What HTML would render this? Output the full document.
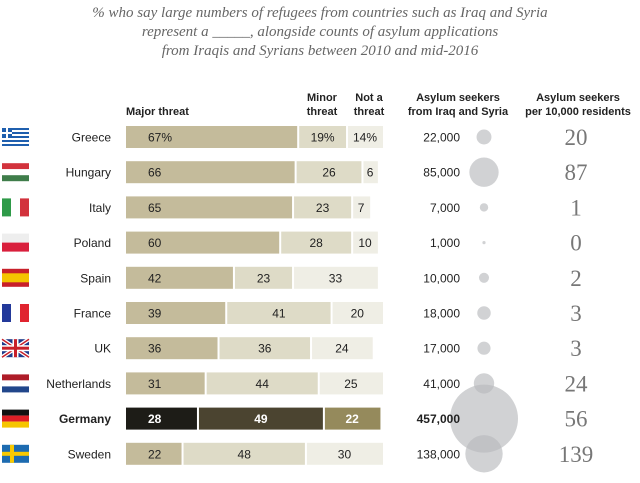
<!DOCTYPE html>
<html><head><meta charset="utf-8"><style>
body{margin:0;background:#fff;width:640px;height:478px;overflow:hidden;font-family:"Liberation Sans",sans-serif}
svg text{font-family:"Liberation Sans",sans-serif}
</style></head><body>
<svg id="c" width="640" height="478">
<g font-family="Liberation Serif" font-style="italic" fill="#666" font-size="15" text-anchor="middle">
<text x="320" y="17" style="font-family:'Liberation Serif',serif">% who say large numbers of refugees from countries such as Iraq and Syria</text>
<text x="320" y="36" style="font-family:'Liberation Serif',serif">represent a _____, alongside counts of asylum applications</text>
<text x="320" y="55" style="font-family:'Liberation Serif',serif">from Iraqis and Syrians between 2010 and mid-2016</text>
</g>
<g font-size="11" font-weight="bold" fill="#222">
<text x="126" y="115">Major threat</text>
<text x="322" y="101" text-anchor="middle">Minor</text><text x="322" y="115" text-anchor="middle">threat</text>
<text x="369" y="101" text-anchor="middle">Not a</text><text x="369" y="115" text-anchor="middle">threat</text>
<text x="458" y="101" text-anchor="middle">Asylum seekers</text><text x="458" y="115" text-anchor="middle">from Iraq and Syria</text>
<text x="578" y="101" text-anchor="middle">Asylum seekers</text><text x="578" y="115" text-anchor="middle">per 10,000 residents</text>
</g>
<g id="circles"></g>
<g id="rows"></g>
</svg>
<script>
const countries=["Greece","Hungary","Italy","Poland","Spain","France","UK","Netherlands","Germany","Sweden"];
const major=[67,66,65,60,42,39,36,31,28,22];
const minor=[19,26,23,28,23,41,36,44,49,48];
const notThreat=[14,6,7,10,33,20,24,25,22,30];
const seekers=[22000,85000,7000,1000,10000,18000,17000,41000,457000,138000];
const seekerLabels=["22,000","85,000","7,000","1,000","10,000","18,000","17,000","41,000","457,000","138,000"];
const per10k=[20,87,1,0,2,3,3,24,56,139];
const NS="http://www.w3.org/2000/svg";
const x0=126,k=2.57,y0=137,dy=35.2,bh=22;
const rx=v=>v*k;
const yc=i=>y0+i*dy;
const rScale=v=>34*Math.sqrt(v/457000);
function mk(t,a,p){const e=document.createElementNS(NS,t);for(const q in a)e.setAttribute(q,a[q]);p.appendChild(e);return e;}
const rows=document.getElementById('rows'),circ=document.getElementById('circles');
const flags={
Greece:[["#1f5fae"],"greece"],
};
function flag(g,name,y){
 const x=2,w=27,h=18,t=y-9;
 const F=(c,yy,hh,xx=x,ww=w)=>mk('rect',{x:xx,y:yy,width:ww,height:hh,fill:c},g);
 if(name=="Greece"){for(let s=0;s<9;s++)F(s%2?"#fff":"#1f5fae",t+s*2,2);F("#1f5fae",t,10,x,10);F("#fff",t+4,2,x,10);F("#fff",t,10,x+4,2);}
 else if(name=="Hungary"){F("#d2323c",t,6);F("#fff",t+6,6);F("#3f7d4a",t+12,6);}
 else if(name=="Italy"){F("#2e9a48",t,h,x,9);F("#fff",t,h,x+9,9);F("#d2323c",t,h,x+18,9);}
 else if(name=="Poland"){F("#eee",t,9);F("#d91f3c",t+9,9);}
 else if(name=="Spain"){F("#c8202a",t,h);F("#f4c400",t+4.5,9);}
 else if(name=="France"){F("#23399a",t,h,x,9);F("#fff",t,h,x+9,9);F("#e0242f",t,h,x+18,9);}
 else if(name=="UK"){F("#1f3a8a",t,h);mk('path',{d:`M${x} ${t}L${x+w} ${t+h}M${x+w} ${t}L${x} ${t+h}`,stroke:"#fff","stroke-width":4},g);mk('path',{d:`M${x} ${t}L${x+w} ${t+h}M${x+w} ${t}L${x} ${t+h}`,stroke:"#c8202a","stroke-width":1.5},g);F("#fff",t+6,6);F("#fff",t,h,x+10.5,6);F("#c8202a",t+7.5,3);F("#c8202a",t,h,x+12,3);}
 else if(name=="Netherlands"){F("#ae1c28",t,6);F("#fff",t+6,6);F("#21468b",t+12,6);}
 else if(name=="Germany"){F("#111",t,6);F("#dd1f26",t+6,6);F("#f6c500",t+12,6);}
 else if(name=="Sweden"){F("#1d6bb0",t,h);F("#f9c900",t+7,4);F("#f9c900",t,h,x+8,4);}
}
countries.forEach((c,i)=>{
 const y=yc(i),g=mk('g',{},rows);
 
 
 const fg=mk('g',{},g);
 
 
 flag(fg,c,y);
 const de=c=="Germany";
 const n=mk('text',{x:111,y:y+4.5,"text-anchor":"end","font-size":12,fill:"#222","font-weight":de?"bold":"normal"},g);n.textContent=c;
 
 
 const vals=[major[i],minor[i],notThreat[i]];
 const cols=de?["#1d1c17","#4b4430","#958a5c"]:["#c4bb9b","#dedbc7","#efeee5"];
 let acc=0;
 vals.forEach((v,j)=>{
  const xs=x0+rx(acc),w=rx(v);
  const r=mk('rect',{x:xs+(j?1:0),y:y-bh/2,width:w-(j?1:0)-(j<2?1:0),height:bh,fill:cols[j]},g);
  
  
  const lbl=String(v)+(i==0?"%":"");
  const tx=j==0?xs+22:xs+w/2;
  const t=mk('text',{x:tx,y:y+4.5,"text-anchor":j==0?"start":"middle","font-size":12,fill:de?"#fff":"#222","font-weight":de?"bold":"normal"},g);
  t.textContent=lbl;
  
  
  acc+=v;
 });
 const s=mk('text',{x:460,y:y+4.5,"text-anchor":"end","font-size":12,fill:"#222","font-weight":de?"bold":"normal"},g);s.textContent=seekerLabels[i];
 
 
 const ci=mk('circle',{cx:484,cy:y,r:Math.max(rScale(seekers[i]),1),fill:"#b9babd","fill-opacity":0.65},circ);
 
 
 const p=mk('text',{x:576,y:y+8,"text-anchor":"middle","font-size":23,fill:"#777",style:"font-family:'Liberation Serif',serif"},g);p.textContent=per10k[i];
 
 
});
</script>
</body></html>
